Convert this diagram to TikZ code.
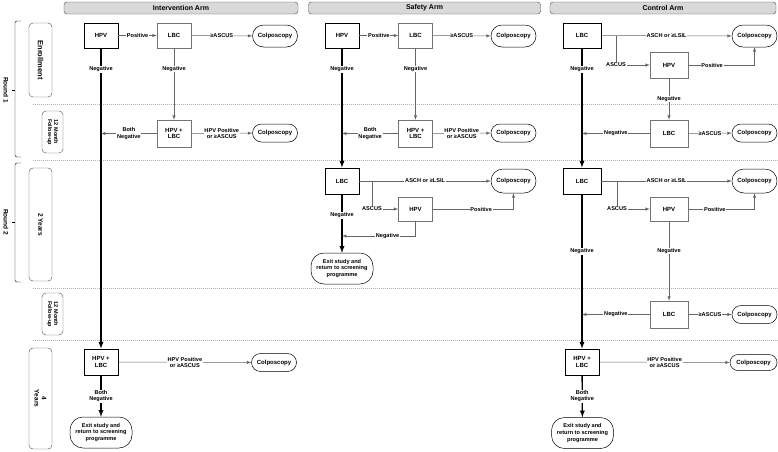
\documentclass[tikz,border=0pt]{standalone}
\usepackage{fontspec}
\setmainfont{Liberation Sans}
\usepackage{tikz}
\usetikzlibrary{arrows}
\tikzset{
every node/.style={font=\fontsize{6}{6.6}\selectfont\bfseries, inner sep=1pt, align=center},
box/.style={rectangle, draw=black!55, line width=0.5pt, fill=white, minimum width=34pt, minimum height=25pt},
mainbox/.style={box, draw=black, line width=0.9pt},
pill/.style={rectangle, rounded corners=9pt, draw=black, line width=0.5pt, fill=white, minimum width=45pt, minimum height=20pt},
exitpill/.style={pill, rounded corners=13pt, minimum width=62pt, minimum height=31pt, inner sep=0pt, font=\fontsize{5.6}{6.6}\selectfont\bfseries},
lab/.style={fill=white, inner sep=0.8pt, font=\fontsize{5.6}{6.3}\selectfont\bfseries},
arm/.style={rectangle, rounded corners=3pt, draw=black!70, fill=black!15, minimum height=12pt, font=\fontsize{7}{8}\selectfont\bfseries},
row/.style={rectangle, rounded corners=4pt, draw=black!70, rotate=-90, minimum height=23pt, font=\fontsize{6.5}{7.2}\selectfont\bfseries},
link/.style={draw=black!60, line width=0.5pt, -latex},
neg/.style={draw=black, line width=1.3pt, -latex},
sep/.style={draw=black!30, dash pattern=on 1pt off 1pt, line width=0.5pt}
}

\begin{document}
\begin{tikzpicture}[x=1pt,y=-1pt]
\useasboundingbox (0,0) rectangle (778,451);

% arms and rows
\node[arm, minimum width=234pt] (harm1) at (181,8) {Intervention Arm};
\node[arm, minimum width=232pt] (harm2) at (424.5,8) {Safety Arm};
\node[arm, minimum width=226pt] (harm3) at (663,8) {Control Arm};

\foreach \y in {104,160,288,340} \draw[sep] (33,\y) -- (778,\y);

\node[row, minimum width=74pt, font=\fontsize{7.5}{8}\selectfont\bfseries] (enrol) at (40.5,60) {Enrollment};
\node[row, minimum width=42pt, minimum height=21pt, font=\fontsize{5.5}{6}\selectfont\bfseries] (fu1) at (52.5,132) {12 Month\\Follow-up};
\node[row, minimum width=113pt] (yr2) at (40.5,224.5) {2 Years};
\node[row, minimum width=42pt, minimum height=21pt, font=\fontsize{5.5}{6}\selectfont\bfseries] (fu2) at (52.5,314) {12 Month\\Follow-up};
\node[row, minimum width=101pt] (yr4) at (40.5,398.5) {4\\Years};

% rounds
\draw[rounded corners=2pt] (21,21) -- (15,21) -- (15,157) -- (21,157);
\draw (15,90) -- (12,90);
\node[rotate=-90, font=\fontsize{6.5}{7}\selectfont\bfseries] (rnd1) at (6,90) {Round 1};
\draw[rounded corners=2pt] (21,163) -- (15,163) -- (15,282) -- (21,282);
\draw (15,222) -- (12,222);
\node[rotate=-90, font=\fontsize{6.5}{7}\selectfont\bfseries] (rnd2) at (6,222) {Round 2};

% intervention arm
\node[mainbox] (ihpv) at (101,35.5) {HPV};
\node[box] (ilbc) at (174,35.5) {LBC};
\node[pill, minimum height=22pt, rounded corners=11pt] (icol1) at (275,36) {Colposcopy};
\node[box, minimum height=27pt] (ihl) at (174,133.5) {HPV +\\LBC};
\node[pill, minimum height=18pt] (icol2) at (275,133) {Colposcopy};
\node[mainbox, minimum height=26pt] (ihl4) at (101,362) {HPV +\\LBC};
\node[pill, minimum height=18pt] (icol4) at (274,362.5) {Colposcopy};
\node[exitpill] (iexit) at (101,432.5) {Exit study and\\return to screening\\programme};

\draw[link] (ihpv) --node[midway,lab] {Positive} (ilbc);
\draw[link] (ilbc) --node[midway,lab] {≥ASCUS} (icol1);
\draw[link] (ilbc) --node[pos=0.29,lab] {Negative} (ihl);
\draw[link] (ihl) --node[midway,lab] {HPV Positive\\or ≥ASCUS} (icol2);
\draw[link] (ihl) --node[midway,lab] {Both\\Negative} (ihpv.south |- ihl.west);
\draw[neg] (ihpv) --node[pos=0.07,lab] {Negative} (ihl4);
\draw[link] (ihl4) --node[midway,lab] {HPV Positive\\or ≥ASCUS} (icol4);
\draw[neg] (ihl4) --node[midway,lab] {Both\\Negative} (iexit);

% safety arm
\node[mainbox] (shpv) at (342,35.5) {HPV};
\node[box] (slbc) at (415.5,35.5) {LBC};
\node[pill, minimum height=22pt, rounded corners=11pt] (scol1) at (513.5,36) {Colposcopy};
\node[box, minimum height=27pt] (shl) at (415.5,133.5) {HPV +\\LBC};
\node[pill, minimum height=18pt] (scol2) at (513.5,133) {Colposcopy};
\node[mainbox, minimum height=26pt] (slbc2) at (342,181) {LBC};
\node[pill, minimum height=24pt, rounded corners=12pt] (scol3) at (513.5,181) {Colposcopy};
\node[box, minimum height=24pt] (shpv2) at (415.5,209) {HPV};
\node[exitpill] (sexit) at (342,268.5) {Exit study and\\return to screening\\programme};
\coordinate (sbr) at (372,181);
\coordinate (sneg) at (342,236);

\draw[link] (shpv) --node[midway,lab] {Positive} (slbc);
\draw[link] (slbc) --node[midway,lab] {≥ASCUS} (scol1);
\draw[link] (slbc) --node[pos=0.29,lab] {Negative} (shl);
\draw[link] (shl) --node[midway,lab] {HPV Positive\\or ≥ASCUS} (scol2);
\draw[link] (shl) --node[midway,lab] {Both\\Negative} (shpv.south |- shl.west);
\draw[neg] (shpv) --node[pos=0.175,lab] {Negative} (slbc2);
\draw[link] (slbc2) --node[midway,lab] {ASCH or ≥LSIL} (scol3);
\draw[link] (sbr) |-node[pos=0.5,lab] {ASCUS} (shpv2);
\draw[link] (shpv2) -|node[pos=0.3,lab] {Positive} (scol3);
\draw[link] (shpv2) |-node[pos=0.69,lab] {Negative} (sneg);
\draw[neg] (slbc2) --node[pos=0.36,lab] {Negative} (sexit);

% control arm
\node[mainbox, minimum width=38pt] (clbc) at (582,35.5) {LBC};
\node[pill, minimum height=22pt, rounded corners=11pt] (ccol1) at (754.5,36) {Colposcopy};
\node[box, minimum width=38pt, minimum height=26pt] (chpv) at (669,65) {HPV};
\node[box, minimum width=38pt, minimum height=27pt] (clbc1) at (669,133.5) {LBC};
\node[pill, minimum height=18pt] (ccol2) at (754.5,133) {Colposcopy};
\node[mainbox, minimum width=38pt, minimum height=26pt] (clbc2) at (582,181) {LBC};
\node[pill, minimum height=24pt, rounded corners=12pt] (ccol3) at (754.5,181) {Colposcopy};
\node[box, minimum width=38pt, minimum height=24pt] (chpv2) at (669,209) {HPV};
\node[box, minimum width=38pt, minimum height=27pt] (clbc3) at (669,314.5) {LBC};
\node[pill, minimum height=18pt] (ccol4) at (754.5,314.5) {Colposcopy};
\node[mainbox, minimum height=26pt] (chl4) at (582,362) {HPV +\\LBC};
\node[pill, minimum height=16pt, minimum width=47pt, rounded corners=8pt] (ccol5) at (753.5,362.5) {Colposcopy};
\node[exitpill] (cexit) at (582.5,433) {Exit study and\\return to screening\\programme};
\coordinate (cbr1) at (616,35.5);
\coordinate (cbr2) at (617,181);

\draw[link] (clbc) --node[midway,lab] {ASCH or ≥LSIL} (ccol1);
\draw[link] (cbr1) |-node[pos=0.5,lab] {ASCUS} (chpv);
\draw[link] (chpv) -|node[pos=0.18,lab] {Positive} (ccol1);
\draw[link] (chpv) --node[midway,lab] {Negative} (clbc1);
\draw[link] (clbc1) --node[midway,lab] {Negative} (clbc.south |- clbc1.west);
\draw[link] (clbc1) --node[midway,lab] {≥ASCUS} (ccol2);
\draw[neg] (clbc) --node[pos=0.175,lab] {Negative} (clbc2);
\draw[link] (clbc2) --node[midway,lab] {ASCH or ≥LSIL} (ccol3);
\draw[link] (cbr2) |-node[pos=0.5,lab] {ASCUS} (chpv2);
\draw[link] (chpv2) -|node[pos=0.2,lab] {Positive} (ccol3);
\draw[link] (chpv2) --node[pos=0.375,lab] {Negative} (clbc3);
\draw[link] (clbc3) --node[midway,lab] {Negative} (clbc.south |- clbc3.west);
\draw[link] (clbc3) --node[midway,lab] {≥ASCUS} (ccol4);
\draw[neg] (clbc2) --node[pos=0.37,lab] {Negative} (chl4);
\draw[link] (chl4) --node[midway,lab] {HPV Positive\\or ≥ASCUS} (ccol5);
\draw[neg] (chl4) --node[midway,lab] {Both\\Negative} (cexit);
\end{tikzpicture}
\end{document}
